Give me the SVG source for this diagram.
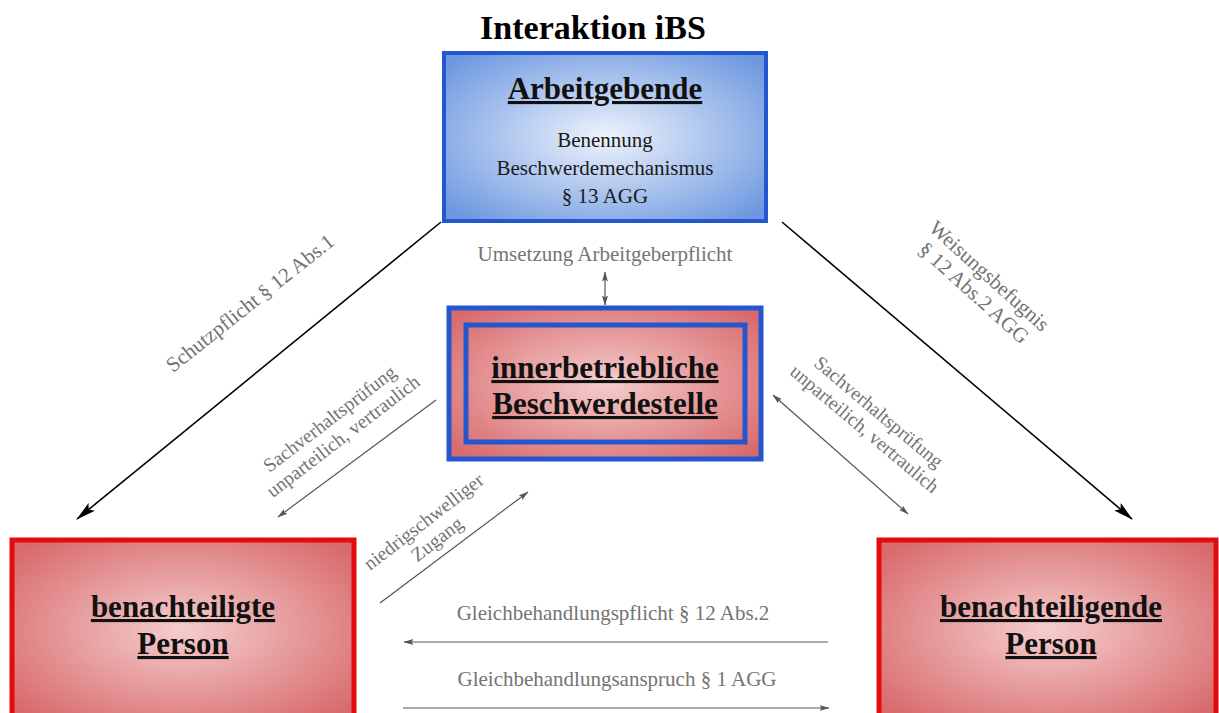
<svg xmlns="http://www.w3.org/2000/svg" width="1219" height="713" viewBox="0 0 1219 713">
<defs>
<radialGradient id="gBlue" cx="50%" cy="50%" r="65%">
<stop offset="0" stop-color="#eef3fc"/>
<stop offset="1" stop-color="#6d98e0"/>
</radialGradient>
<radialGradient id="gRed" cx="50%" cy="50%" r="65%">
<stop offset="0" stop-color="#f5cdcd"/>
<stop offset="1" stop-color="#d86a6c"/>
</radialGradient>
<marker id="bigArrow" viewBox="0 0 20 10" refX="19" refY="5" markerWidth="20" markerHeight="10" markerUnits="userSpaceOnUse" orient="auto-start-reverse">
<path d="M0,0 L20,5 L0,10 L4,5 z" fill="#000"/>
</marker>
<marker id="smallArrow" viewBox="0 0 10 6" refX="9.5" refY="3" markerWidth="10" markerHeight="6" markerUnits="userSpaceOnUse" orient="auto-start-reverse">
<path d="M0,0 L10,3 L0,6 L2,3 z" fill="#555"/>
</marker>
</defs>
<style>
.title{font-family:"Liberation Serif","Times New Roman",serif;font-weight:bold;font-size:34px;fill:#000;}
.head{font-family:"Liberation Serif","Times New Roman",serif;font-weight:bold;font-size:31px;fill:#111;text-decoration:underline;}
.sub{font-family:"Liberation Serif","Times New Roman",serif;font-size:21px;fill:#1a1a1a;}
.lbl{font-family:"Liberation Serif","Times New Roman",serif;font-size:21px;fill:#747474;}
.lbs{font-family:"Liberation Serif","Times New Roman",serif;font-size:19.5px;fill:#747474;}
.blk{stroke:#000;stroke-width:1.6;fill:none;}
.gry{stroke:#555;stroke-width:1.2;fill:none;}
</style>
<rect width="1219" height="713" fill="#fff"/>
<text class="title" x="593" y="39" text-anchor="middle">Interaktion iBS</text>

<g id="arbeitgebende">
<rect x="444" y="53" width="322" height="168" fill="url(#gBlue)" stroke="#2456d0" stroke-width="4"/>
<text class="head" x="605" y="99" text-anchor="middle">Arbeitgebende</text>
<text class="sub" x="605" y="147" text-anchor="middle">Benennung</text>
<text class="sub" x="605" y="175" text-anchor="middle">Beschwerdemechanismus</text>
<text class="sub" x="605" y="203" text-anchor="middle">§ 13 AGG</text>
</g>

<g id="beschwerdestelle">
<rect x="449" y="308" width="312" height="151" fill="url(#gRed)" stroke="#2456d0" stroke-width="5"/>
<rect x="466" y="325" width="279" height="117" fill="none" stroke="#2456d0" stroke-width="5"/>
<text class="head" x="605" y="378" text-anchor="middle">innerbetriebliche</text>
<text class="head" x="605" y="414" text-anchor="middle">Beschwerdestelle</text>
</g>

<g id="benachteiligte">
<rect x="12" y="540" width="342" height="180" fill="url(#gRed)" stroke="#e30b0b" stroke-width="5"/>
<text class="head" x="183" y="617" text-anchor="middle">benachteiligte</text>
<text class="head" x="183" y="654" text-anchor="middle">Person</text>
</g>

<g id="benachteiligende">
<rect x="879" y="540" width="337" height="180" fill="url(#gRed)" stroke="#e30b0b" stroke-width="5"/>
<text class="head" x="1051" y="617" text-anchor="middle">benachteiligende</text>
<text class="head" x="1051" y="654" text-anchor="middle">Person</text>
</g>

<g id="connectors">
<line class="blk" x1="441" y1="222" x2="77" y2="519" marker-end="url(#bigArrow)"/>
<line class="blk" x1="782" y1="222" x2="1132" y2="519" marker-end="url(#bigArrow)"/>
<line class="gry" x1="605" y1="272" x2="605" y2="305" marker-start="url(#smallArrow)" marker-end="url(#smallArrow)"/>
<line class="gry" x1="436" y1="400" x2="278" y2="517" marker-end="url(#smallArrow)"/>
<line class="gry" x1="773" y1="395" x2="908" y2="514" marker-start="url(#smallArrow)" marker-end="url(#smallArrow)"/>
<line class="gry" x1="380" y1="603" x2="528" y2="492" marker-end="url(#smallArrow)"/>
<line class="gry" x1="828" y1="642" x2="404" y2="642" marker-end="url(#smallArrow)"/>
<line class="gry" x1="403" y1="708" x2="829" y2="708" marker-end="url(#smallArrow)"/>

<text class="lbl" x="605" y="261" text-anchor="middle">Umsetzung Arbeitgeberpflicht</text>
<text class="lbl" x="613" y="620" text-anchor="middle">Gleichbehandlungspflicht § 12 Abs.2</text>
<text class="lbl" x="617" y="686" text-anchor="middle">Gleichbehandlungsanspruch § 1 AGG</text>
<g transform="translate(250,303) rotate(-38.5)">
<text class="lbl" x="0" y="7" text-anchor="middle">Schutzpflicht § 12 Abs.1</text>
</g>
<g transform="translate(982,284) rotate(42)">
<text class="lbl" x="0" y="-4" text-anchor="middle">Weisungsbefugnis</text>
<text class="lbl" x="0" y="19" text-anchor="middle">§ 12 Abs.2 AGG</text>
</g>
<g transform="translate(336,427) rotate(-37.5)">
<text class="lbs" x="0" y="-4" text-anchor="middle">Sachverhaltsprüfung</text>
<text class="lbs" x="0" y="18" text-anchor="middle">unparteilich, vertraulich</text>
</g>
<g transform="translate(872,420) rotate(40)">
<text class="lbs" x="0" y="-4" text-anchor="middle">Sachverhaltsprüfung</text>
<text class="lbs" x="0" y="18" text-anchor="middle">unparteilich, vertraulich</text>
</g>
<g transform="translate(430,530) rotate(-37.5)">
<text class="lbs" x="0" y="-4" text-anchor="middle">niedrigschwelliger</text>
<text class="lbs" x="0" y="18" text-anchor="middle">Zugang</text>
</g>
</g>
</svg>
